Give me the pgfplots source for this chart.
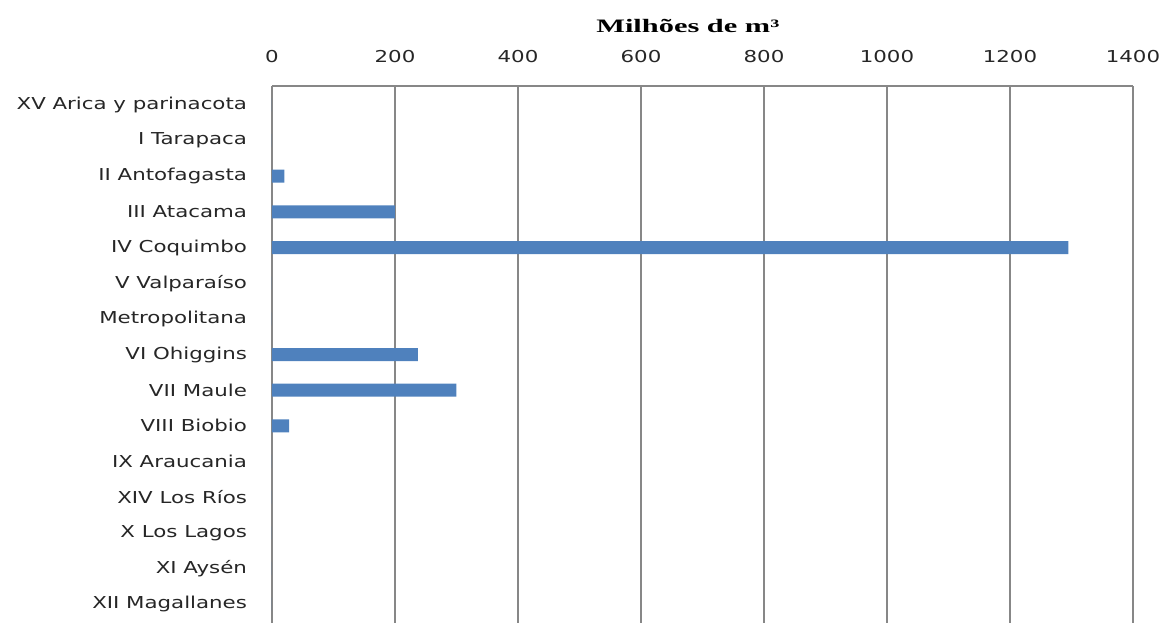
\documentclass[border=0pt]{standalone}
\usepackage{fontspec}
\usepackage{pgfplots}
\pgfplotsset{compat=1.18}
\newfontfamily\lab[FakeStretch=1.3]{DejaVu Sans}
\newfontfamily\ttl[FakeStretch=1.6]{Liberation Serif}
\definecolor{barblue}{HTML}{4F81BD}
\definecolor{gridgray}{HTML}{878787}
\definecolor{txt}{HTML}{262626}
\begin{document}
\begin{tikzpicture}
\path[use as bounding box] (-136pt,0) rectangle (445pt,311.5pt);
\begin{axis}[
    at={(0,0)}, anchor=south west,
    scale only axis,
    width=430.5pt, height=268.5pt,
    xbar,
    bar width=6.5pt,
    xmin=0, xmax=1400,
    ymin=-0.53, ymax=14.53,
    y dir=reverse,
    xtick={0,200,...,1400},
    ytick={0,...,14},
    yticklabels={XV Arica y parinacota, I Tarapaca, II Antofagasta, III Atacama,
        IV Coquimbo, V Valparaíso, Metropolitana, VI Ohiggins, VII Maule,
        VIII Biobio, IX Araucania, XIV Los Ríos, X Los Lagos, XI Aysén, XII Magallanes},
    separate axis lines,
    axis x line*=top,
    axis y line*=box,
    axis line style={gridgray, line width=1pt},
    xmajorgrids,
    major grid style={gridgray, line width=1pt},
    major tick length=0pt,
    /pgf/number format/assume math mode=true,
    /pgf/number format/1000 sep={},
    ticklabel style={font=\lab\fontsize{8.2}{10}\selectfont, text=txt},
    xticklabel style={yshift=8pt},
    yticklabel style={xshift=-9pt},
    title={\ttl\bfseries Milhões de m³},
    title style={at={(0.483,1)}, anchor=base, yshift=21pt, font=\fontsize{9.5}{11}\selectfont},
]
\addplot[fill=barblue, draw=none] coordinates {
    (0,0) (0,1) (20,2) (200,3) (1295,4) (0,5) (0,6) (237,7)
    (300,8) (28,9) (0,10) (0,11) (0,12) (0,13) (0,14)
};
\end{axis}
\end{tikzpicture}
\end{document}
